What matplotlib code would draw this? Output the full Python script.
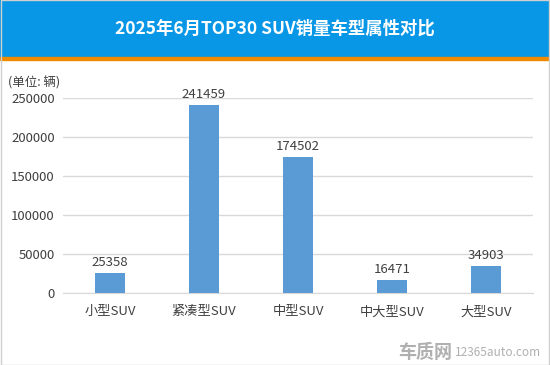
import matplotlib.pyplot as plt
from matplotlib.patches import Rectangle

plt.rcParams['font.family'] = ['Noto Sans CJK SC', 'DejaVu Sans']

categories = ["小型SUV", "紧凑型SUV", "中型SUV", "中大型SUV", "大型SUV"]
sales = [25358, 241459, 174502, 16471, 34903]
yticks = [0, 50000, 100000, 150000, 200000, 250000]

fig = plt.figure(figsize=(5.5, 3.65), dpi=100)

# header band
fig.patches.append(Rectangle((0, 1 - 57 / 365), 1, 57 / 365, transform=fig.transFigure,
                             color="#0896e6", zorder=0))
fig.patches.append(Rectangle((0, 1 - 60 / 365), 1, 3 / 365, transform=fig.transFigure,
                             color="#f08a00", zorder=0))
fig.patches.append(Rectangle((0.001, 0.001), 0.998, 0.998, transform=fig.transFigure,
                             fill=False, edgecolor="#d0d0d0", lw=1, zorder=5))
fig.text(0.5, 1 - 29 / 365, "2025年6月TOP30 SUV销量车型属性对比", color="white",
         fontsize=12.5, fontweight="bold", ha="center", va="center")

ax = fig.add_axes([63 / 550, 1 - 293 / 365, 470 / 550, 195 / 365])
x = range(len(categories))
bars = ax.bar(x, sales, width=0.32, color="#5b9bd5", zorder=3)
for xi, v in zip(x, sales):
    ax.text(xi, v + 5000, str(v), ha="center", va="bottom", fontsize=9.5, color="#404040")

ax.set_xlim(-0.5, len(categories) - 0.5)
ax.set_ylim(0, 250000)
ax.set_yticks(yticks)
ax.set_yticklabels([str(t) for t in yticks])
ax.set_xticks(list(x))
ax.set_xticklabels(categories)
ax.tick_params(axis="both", length=0, labelsize=9.5, labelcolor="#404040")
ax.tick_params(axis="y", pad=6)
ax.tick_params(axis="x", pad=9)
ax.grid(axis="y", color="#d9d9d9", lw=1, zorder=0)
for s in ["top", "right", "left"]:
    ax.spines[s].set_visible(False)
ax.spines["bottom"].set_color("#d9d9d9")

fig.text(8 / 550, 1 - 83 / 365, "(单位: 辆)", fontsize=9, color="#404040", va="center")

# watermark
fig.text(398 / 550, 1 - 352 / 365, "车质网", fontsize=13, fontweight="bold",
         color="#b0b0b0", va="center")
fig.text(455 / 550, 1 - 353 / 365, "12365auto.com", fontsize=8.5, color="#b0b0b0", va="center")

fig.savefig("out.png", dpi=100)
